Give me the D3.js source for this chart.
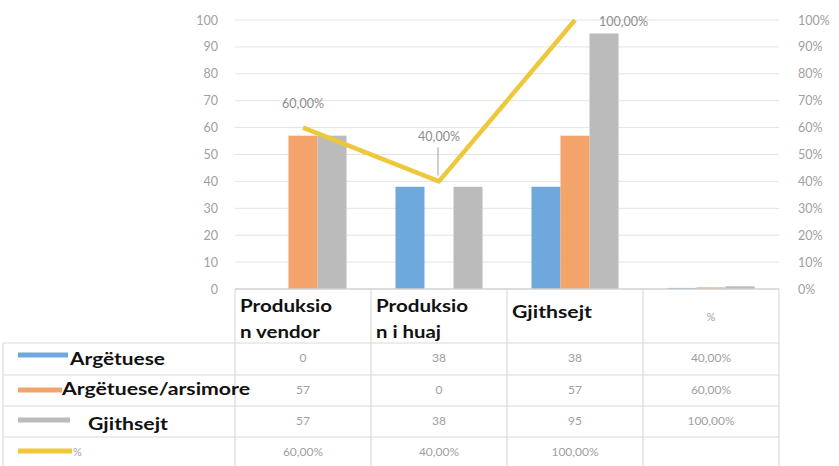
<!DOCTYPE html>
<html>
<head>
<meta charset="utf-8">
<script src="https://cdn.jsdelivr.net/npm/d3@7"></script>
<style>
  html, body { margin: 0; padding: 0; background: #fff; }
  svg { display: block; }
</style>
</head>
<body>
<svg id="chart" width="839" height="466"></svg>
<script>
// Categories along the x axis (also the table's column headers)
const categories = ["Produksion vendor", "Produksion i huaj", "Gjithsejt", "%"];
const headerLines = [["Produksio", "n vendor"], ["Produksio", "n i huaj"], ["Gjithsejt"], ["%"]];

// Bar series (left axis); the "%" column holds shares as fractions
const seriesNames = ["Argëtuese", "Argëtuese/arsimore", "Gjithsejt"];
const argetuese = [0, 38, 38, 0.4];
const argetueseArsimore = [57, 0, 57, 0.6];
const gjithsejt = [57, 38, 95, 1.0];
// Share line (right axis)
const pctLine = [0.6, 0.4, 1.0, null];

// Text shown in the data table
const tableText = [
  ["0", "38", "38", "40,00%"],
  ["57", "0", "57", "60,00%"],
  ["57", "38", "95", "100,00%"],
  ["60,00%", "40,00%", "100,00%", ""]
];
const leftTicks = [0, 10, 20, 30, 40, 50, 60, 70, 80, 90, 100];
const rightTicks = [0, 0.1, 0.2, 0.3, 0.4, 0.5, 0.6, 0.7, 0.8, 0.9, 1.0];

const barSeries = [argetuese, argetueseArsimore, gjithsejt];
const colors = ["#6FA8DC", "#F4A46A", "#BBBBBB"];
const lineColor = "#EDC83A";
const gridColor = "#E3E3E3";
const tableLine = "#DADADA";
const mutedText = "#A0A0A0";

const svg = d3.select("#chart");
const plotLeft = 235, plotRight = 779, plotTop = 20, plotBottom = 289;

const x = d3.scaleBand().domain(categories).range([plotLeft, plotRight]).padding(0);
const bw = x.bandwidth();
const groupW = bw * 0.64;
const xSub = d3.scaleBand().domain(seriesNames).range([(bw - groupW) / 2, (bw + groupW) / 2]).padding(0);
const y = d3.scaleLinear().domain([0, 100]).range([plotBottom, plotTop]);
const yR = d3.scaleLinear().domain([0, 1]).range([plotBottom, plotTop]);

// Gridlines
svg.append("g").selectAll("line").data(leftTicks.slice(1)).join("line")
  .attr("x1", plotLeft).attr("x2", plotRight)
  .attr("y1", d => y(d)).attr("y2", d => y(d))
  .attr("stroke", gridColor).attr("stroke-width", 1);

const thinFont = "Lato, 'Open Sans', sans-serif";

// Left axis
const leftAxis = d3.axisLeft(y).tickValues(leftTicks).tickSize(0).tickPadding(17).tickFormat(d3.format("d"));
const gL = svg.append("g").attr("transform", `translate(${plotLeft},0)`).call(leftAxis);
gL.select(".domain").remove();
gL.selectAll("text").attr("fill", mutedText).style("font-family", thinFont).style("font-size", "12.5px");

// Right axis
const fmtPct = d => Math.round(d * 100) + "%";
const rightAxis = d3.axisRight(yR).tickValues(rightTicks).tickSize(0).tickPadding(19).tickFormat(fmtPct);
const gR = svg.append("g").attr("transform", `translate(${plotRight},0)`).call(rightAxis);
gR.select(".domain").remove();
gR.selectAll("text").attr("fill", mutedText).style("font-family", thinFont).style("font-size", "12.5px");

// Bars
barSeries.forEach((vals, si) => {
  svg.append("g").selectAll("rect").data(vals.map((v, i) => ({ v, c: categories[i] }))).join("rect")
    .attr("x", d => x(d.c) + xSub(seriesNames[si]))
    .attr("y", d => y(d.v))
    .attr("width", xSub.bandwidth())
    .attr("height", d => plotBottom - y(d.v))
    .attr("fill", colors[si]);
});

// Category axis line
svg.append("line").attr("x1", plotLeft).attr("x2", plotRight).attr("y1", plotBottom).attr("y2", plotBottom)
  .attr("stroke", "#D0D0D0").attr("stroke-width", 1.5);

// Share line
const linePts = pctLine.map((v, i) => ({ v, c: categories[i] })).filter(d => d.v !== null);
const line = d3.line().x(d => x(d.c) + bw / 2).y(d => yR(d.v));
svg.append("path").datum(linePts).attr("d", line)
  .attr("fill", "none").attr("stroke", lineColor).attr("stroke-width", 4.5)
  .attr("stroke-linejoin", "round");

// Data labels for the line
const labelPos = [
  { dx: 0, dy: -20, anchor: "middle" },
  { dx: 0, dy: -40, anchor: "middle", leader: true },
  { dx: 24, dy: 6, anchor: "start" }
];
linePts.forEach((d, i) => {
  const px = x(d.c) + bw / 2, py = yR(d.v);
  const p = labelPos[i];
  svg.append("text").attr("x", px + p.dx).attr("y", py + p.dy)
    .attr("text-anchor", p.anchor).attr("fill", "#8C8C8C")
    .style("font-family", thinFont).style("font-size", "12.5px")
    .text(d3.format(".2f")(d.v * 100).replace(".", ",") + "%");
  if (p.leader) {
    svg.append("line").attr("x1", px - 1).attr("x2", px - 1).attr("y1", py - 34).attr("y2", py - 6)
      .attr("stroke", "#A0A0A0").attr("stroke-width", 1);
  }
});

// Data table
const rowLines = [343, 375, 406, 437, 468];
const tableLeft = 3;
const tg = svg.append("g");
// column borders
[plotLeft, ...categories.map(c => x(c) + bw)].forEach(xx => {
  tg.append("line").attr("x1", xx).attr("x2", xx).attr("y1", plotBottom).attr("y2", 468)
    .attr("stroke", tableLine).attr("stroke-width", 1.2);
});
rowLines.forEach(yy => {
  tg.append("line").attr("x1", tableLeft).attr("x2", plotRight).attr("y1", yy).attr("y2", yy)
    .attr("stroke", tableLine).attr("stroke-width", 1.2);
});
tg.append("line").attr("x1", tableLeft).attr("x2", tableLeft).attr("y1", 343).attr("y2", 468)
  .attr("stroke", tableLine).attr("stroke-width", 1.2);

// Column headers
const boldFont = "Lato, 'Open Sans', sans-serif";
const headerWidths = [[92, 80], [92, 65], [80]];
headerLines.forEach((lines, ci) => {
  if (ci === 3) {
    tg.append("text").attr("x", x(categories[ci]) + bw / 2).attr("y", 321)
      .attr("text-anchor", "middle").attr("fill", mutedText)
      .style("font-family", thinFont).style("font-size", "11px").text(lines[0]);
    return;
  }
  lines.forEach((t, li) => {
    const yy = lines.length === 1 ? 318 : (li === 0 ? 312 : 338);
    tg.append("text").attr("x", x(categories[ci]) + 5).attr("y", yy)
      .attr("fill", "#111").style("font-family", boldFont).style("font-size", "16.5px").style("font-weight", "700")
      .attr("textLength", headerWidths[ci][li]).attr("lengthAdjust", "spacingAndGlyphs")
      .text(t);
  });
});

// Row legend keys and labels
const rowCenters = [358, 390, 421, 452];
const keyRows = [
  { color: colors[0], x2: 68, label: seriesNames[0], lx: 70, ly: 365, w: 95 },
  { color: colors[1], x2: 62, label: seriesNames[1], lx: 62, ly: 395, w: 188 },
  { color: colors[2], x2: 70, label: seriesNames[2], lx: 88, ly: 430, w: 80 },
  { color: lineColor, x2: 72, label: "%", lx: 73, ly: 456, w: null }
];
keyRows.forEach((k, ri) => {
  const ky = [355, 390, 420, 451][ri];
  tg.append("line").attr("x1", 18).attr("x2", k.x2).attr("y1", ky).attr("y2", ky)
    .attr("stroke", k.color).attr("stroke-width", 5);
  const t = tg.append("text").attr("x", k.lx).attr("y", k.ly).text(k.label);
  if (k.w) {
    t.attr("fill", "#111").style("font-family", boldFont).style("font-size", "16.5px").style("font-weight", "700")
      .attr("textLength", k.w).attr("lengthAdjust", "spacingAndGlyphs");
  } else {
    t.attr("fill", mutedText).style("font-family", thinFont).style("font-size", "11px");
  }
});

// Cell values
tableText.forEach((row, ri) => {
  row.forEach((v, ci) => {
    tg.append("text").attr("x", x(categories[ci]) + bw / 2).attr("y", rowCenters[ri] + 4)
      .attr("text-anchor", "middle").attr("fill", mutedText)
      .style("font-family", thinFont).style("font-size", "12px").text(v);
  });
});
</script>
</body>
</html>
